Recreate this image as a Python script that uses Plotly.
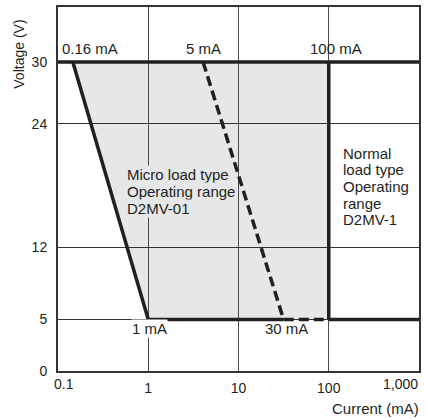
import numpy as np
import plotly.graph_objects as go

# ---- data ----
x_tick_vals = [0.1, 1, 10, 100, 1000]
x_tick_text = ["0.1", "1", "10", "100", "1,000"]
y_tick_vals = [0, 5, 12, 24, 30]

# micro load operating region (current mA, voltage V)
region_x = [0.146, 100, 100, 1]
region_y = [30, 30, 5, 5]

# boundaries
top_x, top_y = [0.1, 1000], [30, 30]
left_x, left_y = [0.146, 1], [30, 5]
bottom_a_x, bottom_a_y = [1, 31.6], [5, 5]
bottom_b_x, bottom_b_y = [100, 1000], [5, 5]
limit_x, limit_y = [100, 100], [5, 30]
dash_x, dash_y = [4.05, 31.6, 100], [30, 5, 5]

# point labels: text, current, voltage
point_labels = [("0.16 mA", 0.105, 31.35, "left"),
                ("5 mA", 4.06, 31.35, "center"),
                ("100 mA", 121, 31.35, "center")]
low_labels = [("1 mA", 1.03, 4.1, "white"), ("30 mA", 34.2, 4.1, None)]

micro_lines = ["Micro load type", "Operating range", "D2MV-01"]
micro_tx, micro_ty0, step_micro = 0.561, 19.1, 1.65
normal_lines = ["Normal", "load type", "Operating", "range", "D2MV-1"]
normal_tx, normal_ty0, step_normal = 135, 21.15, 1.62

FONT = "Liberation Sans, Arial, Helvetica, sans-serif"
INK = "#231f20"
FILL = "#e6e7e9"
LW = 3.5

fig = go.Figure()

def line(x, y, dash="solid"):
    fig.add_trace(go.Scatter(x=x, y=y, mode="lines",
                             line=dict(color=INK, width=LW, dash=dash),
                             hoverinfo="skip", showlegend=False))

line(top_x, top_y)
line(left_x, left_y)
line(bottom_a_x, bottom_a_y)
line(bottom_b_x, bottom_b_y)
line(limit_x, limit_y)
line(dash_x, dash_y, dash="10px,5px")

# shaded region as a shape below gridlines
path = "M " + " L ".join(f"{x},{y}" for x, y in zip(region_x, region_y)) + " Z"
fig.add_shape(type="path", path=path, xref="x", yref="y",
              fillcolor=FILL, line=dict(width=0), layer="below")

ann = []
for t, x, y, anc in point_labels:
    ann.append(dict(text=t, x=np.log10(x), y=y, xref="x", yref="y",
                    xanchor=anc, yanchor="middle", showarrow=False,
                    font=dict(size=15, color=INK, family=FONT)))
for t, x, y, bg in low_labels:
    d = dict(text=t, x=np.log10(x), y=y, xref="x", yref="y",
             xanchor="center", yanchor="middle", showarrow=False,
             font=dict(size=15, color=INK, family=FONT), borderpad=0)
    if bg:
        d["bgcolor"] = bg
    ann.append(d)
for i, t in enumerate(micro_lines):
    ann.append(dict(text=t, x=np.log10(micro_tx), y=micro_ty0 - i * step_micro,
                    xref="x", yref="y", xanchor="left", yanchor="middle",
                    showarrow=False, bgcolor=FILL, borderpad=0,
                    font=dict(size=15, color=INK, family=FONT)))
for i, t in enumerate(normal_lines):
    ann.append(dict(text=t, x=np.log10(normal_tx), y=normal_ty0 - i * step_normal,
                    xref="x", yref="y", xanchor="left", yanchor="middle",
                    showarrow=False,
                    font=dict(size=15, color=INK, family=FONT)))

# edge tick labels as annotations so they stay inside the window
ann.append(dict(text=x_tick_text[0], x=np.log10(x_tick_vals[0]), y=0,
                xref="x", yref="paper", xanchor="center", yanchor="top",
                xshift=6, yshift=-3, showarrow=False,
                font=dict(size=14, color=INK, family=FONT)))
ann.append(dict(text=x_tick_text[-1], x=np.log10(x_tick_vals[-1]), y=0,
                xref="x", yref="paper", xanchor="right", yanchor="top",
                xshift=1, yshift=-3, showarrow=False,
                font=dict(size=14, color=INK, family=FONT)))
# axis titles
ann.append(dict(text="Voltage (V)", x=-0.107, y=0.87, xref="paper", yref="paper",
                textangle=-90, xanchor="center", yanchor="middle", showarrow=False,
                font=dict(size=14, color=INK, family=FONT)))
ann.append(dict(text="Current (mA)", x=1, y=-0.102, xref="paper", yref="paper",
                xanchor="right", yanchor="middle", xshift=2, showarrow=False,
                font=dict(size=15, color=INK, family=FONT)))

mid_text = [""] + x_tick_text[1:-1] + [""]

fig.update_layout(
    width=426, height=419,
    margin=dict(l=58, r=5, t=7, b=48),
    paper_bgcolor="white", plot_bgcolor="white",
    font=dict(family=FONT, color=INK, size=14),
    annotations=ann,
    xaxis=dict(type="log", range=[-1, 3], tickvals=x_tick_vals, ticktext=mid_text,
               showgrid=True, gridcolor="#4a4a4a", gridwidth=1,
               showline=True, linecolor="#333", linewidth=2, mirror=True,
               ticks="", zeroline=False, ticklabelstandoff=3,
               tickfont=dict(size=14, color=INK, family=FONT)),
    yaxis=dict(range=[0, 35.34], tickvals=y_tick_vals,
               ticktext=[str(v) for v in y_tick_vals],
               showgrid=True, gridcolor="#333", gridwidth=1,
               showline=True, linecolor="#333", linewidth=2, mirror=True,
               ticks="", zeroline=False, ticklabelstandoff=6,
               tickfont=dict(size=14, color=INK, family=FONT)),
)

fig.write_html("out.html", config={"displayModeBar": False},
               post_script="document.body.style.margin='0';document.body.style.overflow='hidden';")
